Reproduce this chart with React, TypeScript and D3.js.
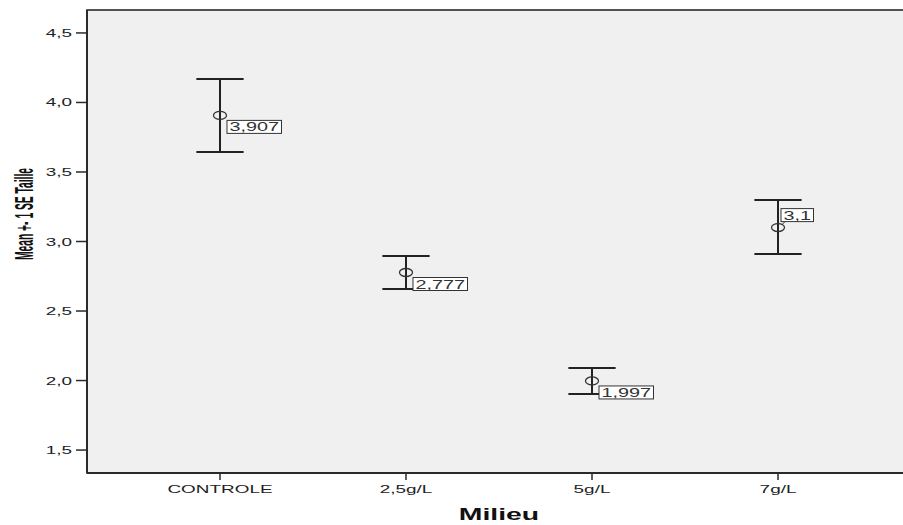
import React from "react";
import * as d3 from "d3";

const categories = ["CONTROLE", "2,5g/L", "5g/L", "7g/L"];
const means = [3.907, 2.777, 1.997, 3.1];
const upperSE = [4.169, 2.896, 2.09, 3.299];
const lowerSE = [3.644, 2.658, 1.903, 2.91];
const meanLabels = ["3,907", "2,777", "1,997", "3,1"];
const labelAbove = [false, false, false, true];
const yTicks = [1.5, 2.0, 2.5, 3.0, 3.5, 4.0, 4.5];

const W = 903;
const H = 525;
const left = 87;
const top = 10;
const bottom = 473;
const stretch = 1.72; // the picture is wider than tall

const App = () => {
  const x = d3.scalePoint<string>().domain(categories).range([left, 911]).padding(0.715);
  const y = d3.scaleLinear().domain([1.335, 4.665]).range([bottom, top]);
  const fmt = (v: number) => d3.format(".1f")(v).replace(".", ",");
  const capHalf = x.step() * 0.127;

  const labelWidth = (s: string) => {
    const commas = s.split(",").length - 1;
    return (s.length - commas) * 11 + commas * 5.5 + 5;
  };

  return (
    <svg width={W} height={H} style={{ position: "absolute", left: 0, top: 0 }}
      fontFamily="'Liberation Sans', Arial, sans-serif">
      <rect x={0} y={0} width={W} height={H} fill="#ffffff" />
      <rect x={left} y={top} width={W - left + 10} height={bottom - top}
        fill="#f0f0f0" stroke="#2a2a2a" strokeWidth={1.6} />

      {/* y axis */}
      <line x1={left} x2={left} y1={top} y2={bottom} stroke="#2a2a2a" strokeWidth={2} />
      {yTicks.map((t) => (
        <g key={t}>
          <line x1={left - 11} x2={left} y1={y(t)} y2={y(t)} stroke="#2a2a2a" strokeWidth={1.5} />
          <g transform={`translate(${left - 15},${y(t) + 4}) scale(${stretch},1)`}>
            <text textAnchor="end" fontSize={11} fill="#222">{fmt(t)}</text>
          </g>
        </g>
      ))}

      {/* x axis */}
      <line x1={left} x2={W} y1={bottom} y2={bottom} stroke="#2a2a2a" strokeWidth={2} />
      {categories.map((c) => (
        <g key={c}>
          <line x1={x(c)} x2={x(c)} y1={bottom} y2={bottom + 7} stroke="#2a2a2a" strokeWidth={1.5} />
          <g transform={`translate(${x(c)},${bottom + 20}) scale(${stretch},1)`}>
            <text textAnchor="middle" fontSize={11} fill="#222">{c}</text>
          </g>
        </g>
      ))}

      {/* titles */}
      <g transform={`translate(${(left + 911) / 2},520) scale(${stretch},1)`}>
        <text textAnchor="middle" fontSize={16.5} fontWeight="bold" fill="#111">Milieu</text>
      </g>
      <g transform={`translate(33,214) scale(${stretch},1) rotate(-90)`}>
        <text textAnchor="middle" fontSize={15} fontWeight="bold" fill="#111"
          textLength={92} lengthAdjust="spacingAndGlyphs">Mean +- 1 SE Taille</text>
      </g>

      {/* error bars */}
      {categories.map((c, i) => {
        const cx = x(c) as number;
        return (
          <g key={c} stroke="#222" strokeWidth={2}>
            <line x1={cx} x2={cx} y1={y(upperSE[i])} y2={y(lowerSE[i])} />
            <line x1={cx - capHalf} x2={cx + capHalf} y1={y(upperSE[i])} y2={y(upperSE[i])} />
            <line x1={cx - capHalf} x2={cx + capHalf} y1={y(lowerSE[i])} y2={y(lowerSE[i])} />
          </g>
        );
      })}

      {/* means and labels */}
      {categories.map((c, i) => {
        const cx = x(c) as number;
        const cy = y(means[i]);
        const bw = labelWidth(meanLabels[i]);
        const bx = labelAbove[i] ? cx + 3 : cx + 7;
        const by = labelAbove[i] ? cy - 19 : cy + 5;
        return (
          <g key={c}>
            <ellipse cx={cx} cy={cy} rx={6.5} ry={4} fill="none" stroke="#333" strokeWidth={1.3} />
            {labelAbove[i] && (
              <line x1={cx + 4} y1={cy - 3} x2={bx + 4} y2={by + 13} stroke="#333" strokeWidth={1} />
            )}
            <rect x={bx} y={by} width={bw} height={13} fill="#fff" stroke="#333" strokeWidth={1} />
            <g transform={`translate(${bx + 2.5},${by + 11}) scale(1.65,1)`}>
              <text fontSize={12} fill="#333">{meanLabels[i]}</text>
            </g>
          </g>
        );
      })}
    </svg>
  );
};

export default App;
